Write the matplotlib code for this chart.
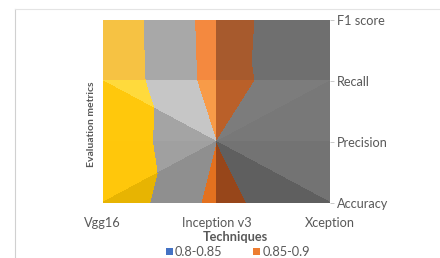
import matplotlib
matplotlib.use("Agg")
import matplotlib.pyplot as plt
import matplotlib.tri as mtri
from matplotlib.patches import Patch
from matplotlib.lines import Line2D

# ---- data ----
techniques = ["Vgg16", "Inception v3", "Xception"]
metrics = ["Accuracy", "Precision", "Recall", "F1 score"]
vgg16 = [0.996, 0.989, 0.991, 0.989]
inception_v3 = [0.885, 0.900, 0.881, 0.879]
xception = [0.942, 0.930, 0.937, 0.941]
band_levels = [0.80, 0.85, 0.90, 0.95, 1.00]
legend_labels = ["0.8-0.85", "0.85-0.9"]

values = [vgg16, inception_v3, xception]  # values[tech][metric]

plt.rcParams['font.family'] = ['Lato', 'DejaVu Sans']
TXT = '#595959'

fig = plt.figure(figsize=(4.4, 2.58), dpi=100)
W, H = 440, 258
ax = fig.add_axes([102.7 / W, 1 - 202.5 / H, (330 - 102.7) / W, (202.5 - 20) / H])

# facet definitions: (list of (tech_idx, metric_idx)), band colours [blue, orange, gray, yellow]
facets = [
    # top-left cell
    ([(0, 3), (1, 3), (0, 2)], ['#5B9BD5', '#F4893F', '#A8A8A8', '#F6C243']),
    ([(1, 3), (1, 2), (0, 2)], ['#5B9BD5', '#F4893F', '#A8A8A8', '#F6C243']),
    # top-right cell
    ([(1, 3), (2, 3), (1, 2)], ['#3A6A99', '#A75A2D', '#6F6F6F', '#9A7A20']),
    ([(2, 3), (2, 2), (1, 2)], ['#3A6A99', '#A75A2D', '#6F6F6F', '#9A7A20']),
    # mid-left cell (diagonal from Vgg16/Recall to Inception/Precision)
    ([(0, 2), (1, 2), (1, 1)], ['#6FAEE0', '#F89B48', '#C6C6C6', '#FFDA3C']),
    ([(0, 2), (1, 1), (0, 1)], ['#5B9BD5', '#F58C38', '#A4A4A4', '#FFC80C']),
    # mid-right cell (diagonal from Xception/Recall to Inception/Precision)
    ([(1, 2), (2, 2), (1, 1)], ['#3A6A99', '#BA6029', '#7C7C7C', '#9A7A20']),
    ([(1, 1), (2, 2), (2, 1)], ['#3A6A99', '#B05A26', '#787878', '#9A7A20']),
    # bottom-left cell (diagonal from Vgg16/Accuracy to Inception/Precision)
    ([(0, 1), (1, 1), (0, 0)], ['#5B9BD5', '#EE8232', '#A0A0A0', '#FFC70B']),
    ([(0, 0), (1, 0), (1, 1)], ['#4A86C0', '#E3711F', '#8F8F8F', '#E7B402']),
    # bottom-right cell (diagonal from Xception/Accuracy to Inception/Precision)
    ([(1, 1), (2, 1), (2, 0)], ['#3A6A99', '#A8511F', '#737373', '#9A7A20']),
    ([(1, 1), (1, 0), (2, 0)], ['#2F5A85', '#97461A', '#5F5F5F', '#8A6A18']),
]

for verts, cols in facets:
    xs = [v[0] for v in verts]
    ys = [v[1] for v in verts]
    zs = [values[t][m] for t, m in verts]
    tri = mtri.Triangulation(xs, ys, triangles=[[0, 1, 2]])
    ax.tricontourf(tri, zs, levels=band_levels, colors=cols, antialiased=False)

ax.set_xlim(0, 2)
ax.set_ylim(0, 3)
for s in ax.spines.values():
    s.set_visible(False)

FS = 9.2
ax.set_xticks(range(len(techniques)))
ax.set_xticklabels(techniques, fontsize=FS, color=TXT)
ax.tick_params(axis='x', length=0, pad=10.5)

ax.yaxis.tick_right()
ax.set_yticks(range(len(metrics)))
ax.set_yticklabels(metrics, fontsize=FS, color=TXT)
ax.tick_params(axis='y', length=3, width=0.6, color='#BFBFBF', pad=2)

fig.text(92 / W, 1 - 124.5 / H, "Evaluation metrics", rotation=90, ha='center', va='center',
         fontsize=7.5, fontweight='bold', color=TXT)
fig.text(235 / W, 1 - 237 / H, "Techniques", ha='center', va='center',
         fontsize=FS, fontweight='bold', color=TXT)

handles = [Patch(facecolor='#4472C4', edgecolor='none'), Patch(facecolor='#ED7D31', edgecolor='none')]
fig.legend(handles, legend_labels, loc='center', bbox_to_anchor=(238 / W, 1 - 252 / H), ncol=2,
           frameon=False, fontsize=FS, labelcolor=TXT, handlelength=0.55, handleheight=0.55,
           handletextpad=0.2, columnspacing=2.4, borderpad=0)

# chart frame (left and top edges visible in the crop)
fig.add_artist(Line2D([15 / W, 15 / W], [0, 1 - 9 / H], transform=fig.transFigure, color='#D0D0D0', lw=0.8))
fig.add_artist(Line2D([15 / W, 1], [1 - 9 / H, 1 - 9 / H], transform=fig.transFigure, color='#E4E4E4', lw=0.8))

fig.savefig("out.png", dpi=100)
